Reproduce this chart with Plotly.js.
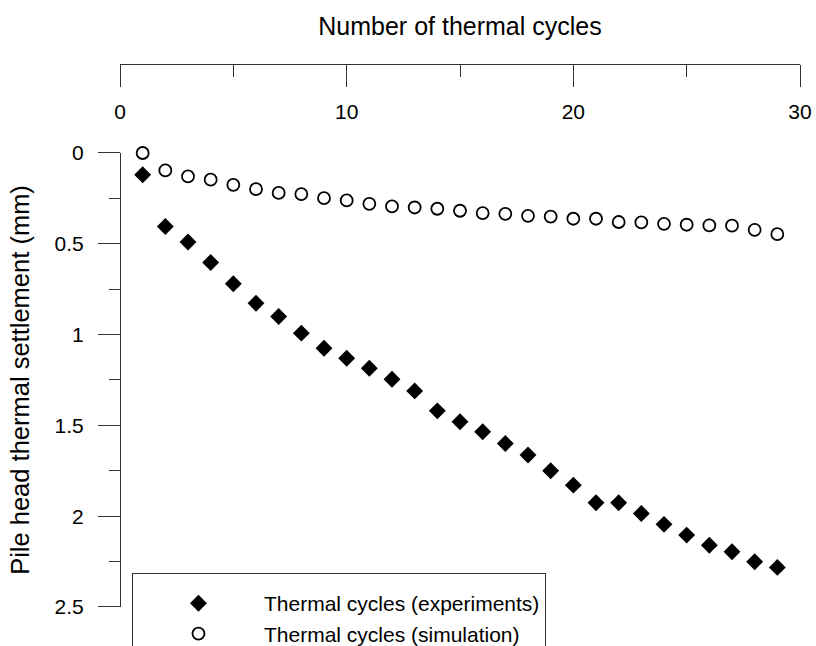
<!DOCTYPE html>
<html>
<head>
<meta charset="utf-8">
<script src="https://cdn.plot.ly/plotly-3.0.1.min.js"></script>
<style>html,body{margin:0;padding:0;background:#fff;}</style>
</head>
<body>
<div id="chart" style="width:816px;height:646px;"></div>
<script>
// Number of thermal cycles
const cycles = [1,2,3,4,5,6,7,8,9,10,11,12,13,14,15,16,17,18,19,20,21,22,23,24,25,26,27,28,29];
// Pile head thermal settlement (mm) - experiments
const experiments = [0.12,0.405,0.49,0.603,0.72,0.827,0.90,0.992,1.075,1.13,1.185,1.246,1.31,1.42,1.48,1.535,1.60,1.663,1.75,1.829,1.926,1.926,1.985,2.045,2.104,2.16,2.196,2.251,2.282];
// Pile head thermal settlement (mm) - simulation
const simulation = [0.0,0.096,0.129,0.147,0.175,0.199,0.22,0.226,0.248,0.261,0.28,0.294,0.30,0.307,0.318,0.331,0.335,0.346,0.35,0.362,0.362,0.38,0.382,0.39,0.395,0.399,0.40,0.423,0.447];
const seriesNames = ["Thermal cycles (experiments)", "Thermal cycles (simulation)"];
const xTitle = "Number of thermal cycles";
const yTitle = "Pile head thermal settlement (mm)";

const font = "'Liberation Sans', Arial, Helvetica, sans-serif";
const axisColor = "#333333";

const traces = [
  {
    x: cycles, y: experiments, name: seriesNames[0],
    type: "scatter", mode: "markers", xaxis: "x", yaxis: "y", cliponaxis: false,
    marker: {symbol: "diamond", size: 13, color: "#000000", line: {width: 0}}
  },
  {
    x: cycles, y: simulation, name: seriesNames[1],
    type: "scatter", mode: "markers", xaxis: "x2", yaxis: "y", cliponaxis: false,
    marker: {symbol: "circle-open", size: 12, color: "#000000", line: {width: 1.8, color: "#000000"}}
  }
];

const layout = {
  width: 816, height: 646,
  margin: {l: 120, r: 16, t: 64, b: 39, pad: 0, autoexpand: false},
  paper_bgcolor: "#ffffff", plot_bgcolor: "#ffffff",
  font: {family: font, color: "#000000", size: 20},
  showlegend: true,
  // axis with line, ticks and tick labels (line at top edge, ticks pointing down)
  xaxis: {
    range: [0, 30], side: "bottom", anchor: "free", position: 1, automargin: false,
    showline: true, linecolor: axisColor, linewidth: 1,
    ticks: "outside", ticklen: 22, tickcolor: axisColor, tickwidth: 1,
    dtick: 10, tick0: 0, ticklabelstandoff: 7,
    minor: {dtick: 5, ticks: "outside", ticklen: 12, tickcolor: axisColor, showgrid: false},
    showgrid: false, zeroline: false,
    tickfont: {size: 21, family: font, color: "#000000"}
  },
  // companion axis carrying the title above the line
  xaxis2: {
    range: [0, 30], matches: "x", overlaying: "x", side: "top", anchor: "free", position: 1, automargin: false,
    showline: false, ticks: "", showticklabels: false, showgrid: false, zeroline: false,
    title: {text: xTitle, font: {size: 25, family: font, color: "#000000"}, standoff: 20}
  },
  yaxis: {
    range: [2.5, 0], domain: [0, 0.8361], anchor: "free", position: 0, automargin: false,
    showline: true, linecolor: axisColor, linewidth: 1,
    ticks: "outside", ticklen: 22, tickcolor: axisColor, tickwidth: 1,
    dtick: 0.5, tick0: 0, ticklabelstandoff: 10,
    minor: {dtick: 0.25, ticks: "outside", ticklen: 11, tickcolor: axisColor, showgrid: false},
    showgrid: false, zeroline: false,
    tickfont: {size: 21, family: font, color: "#000000"},
    title: {text: yTitle, font: {size: 25.5, family: font, color: "#000000"}, standoff: 16}
  },
  legend: {
    x: 0.0176, xanchor: "left", y: 0.0626, yanchor: "top",
    bgcolor: "#ffffff", bordercolor: axisColor, borderwidth: 1,
    font: {size: 21, family: font, color: "#000000"}, itemwidth: 121,
    tracegroupgap: 0,
    title: {text: " ", font: {size: 7, family: font}}
  }
};

Plotly.newPlot("chart", traces, layout, {displayModeBar: false, staticPlot: true});
</script>
</body>
</html>
